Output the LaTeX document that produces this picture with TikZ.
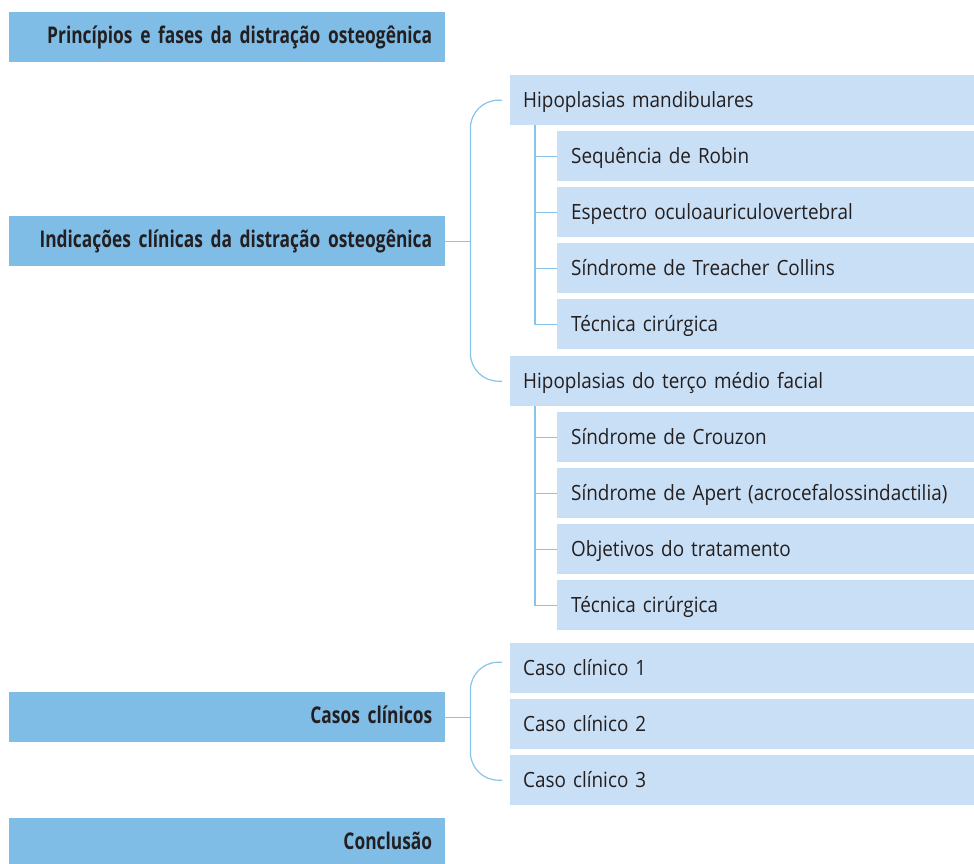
\documentclass[tikz,border=0pt]{standalone}
\usepackage{fontspec}
\setmainfont{Open Sans}
\newfontfamily\regf[FakeStretch=0.9]{Open Sans}
\newfontfamily\boldf[FakeStretch=0.755]{Open Sans}
\definecolor{darkbox}{HTML}{7FBDE7}
\definecolor{lightbox}{HTML}{C9DFF5}
\definecolor{linec}{HTML}{86C4EA}
\definecolor{txt}{HTML}{231F20}
\begin{document}
\begin{tikzpicture}[x=1pt,y=-1pt,
  dbox/.style={fill=darkbox, draw=none, minimum height=50pt, text width=410pt, align=right,
    inner xsep=13pt, inner ysep=0pt, anchor=north west, text=txt,
    font=\boldf\bfseries\fontsize{23}{23}\selectfont, text height=15pt, text depth=2pt},
  lbox/.style={fill=lightbox, draw=none, minimum height=50pt, text width=438pt, align=left,
    inner xsep=13pt, inner ysep=0pt, anchor=north west, text=txt,
    font=\regf\fontsize{21}{21}\selectfont, text height=16pt, text depth=1pt},
  sbox/.style={lbox, text width=389pt, inner xsep=14pt},
  conn/.style={draw=linec, line width=1.2pt}]
\clip (0,0) rectangle (974,863);
\node[dbox] (p1) at (9,12) {Princípios e fases da distração osteogênica};
\node[dbox] (p2) at (9,216) {Indicações clínicas da distração osteogênica};
\node[dbox] (p3) at (9,692) {Casos clínicos};
\node[dbox] (p4) at (9,818) {Conclusão};
\node[lbox] (h1) at (510,75) {Hipoplasias mandibulares};
\node[sbox] (s1) at (557,131) {Sequência de Robin};
\node[sbox] (s2) at (557,187) {Espectro oculoauriculovertebral};
\node[sbox] (s3) at (557,243) {Síndrome de Treacher Collins};
\node[sbox] (s4) at (557,299) {Técnica cirúrgica};
\node[lbox] (h2) at (510,356) {Hipoplasias do terço médio facial};
\node[sbox] (t1) at (557,412) {Síndrome de Crouzon};
\node[sbox] (t2) at (557,468) {Síndrome de Apert (acrocefalossindactilia)};
\node[sbox] (t3) at (557,524) {Objetivos do tratamento};
\node[sbox] (t4) at (557,580) {Técnica cirúrgica};
\node[lbox] (c1) at (510,643) {Caso clínico 1};
\node[lbox] (c2) at (510,699) {Caso clínico 2};
\node[lbox] (c3) at (510,755) {Caso clínico 3};
% brace 1
\draw[conn] (p2.east) -- ++(25,0) coordinate (j1);
\draw[conn, rounded corners=28pt] ([xshift=-8pt]h1.west) -| (j1 |- h2.west) -- ([xshift=-8pt]h2.west);
% sub branches 1
\coordinate (v1) at ([xshift=25pt]h1.south west);
\draw[conn] (v1) |- (s4.west);
\foreach \n in {s1,s2,s3} \draw[conn] (v1 |- \n.west) -- (\n.west);
% sub branches 2
\coordinate (v2) at ([xshift=25pt]h2.south west);
\draw[conn] (v2) |- (t4.west);
\foreach \n in {t1,t2,t3} \draw[conn] (v2 |- \n.west) -- (\n.west);
% brace 2
\draw[conn] (p3.east) -- ++(25,0) coordinate (j2);
\draw[conn, rounded corners=28pt] ([xshift=-8pt,yshift=6pt]c1.west) -| (j2 |- c3.west) -- ([xshift=-8pt]c3.west);
\end{tikzpicture}
\end{document}
